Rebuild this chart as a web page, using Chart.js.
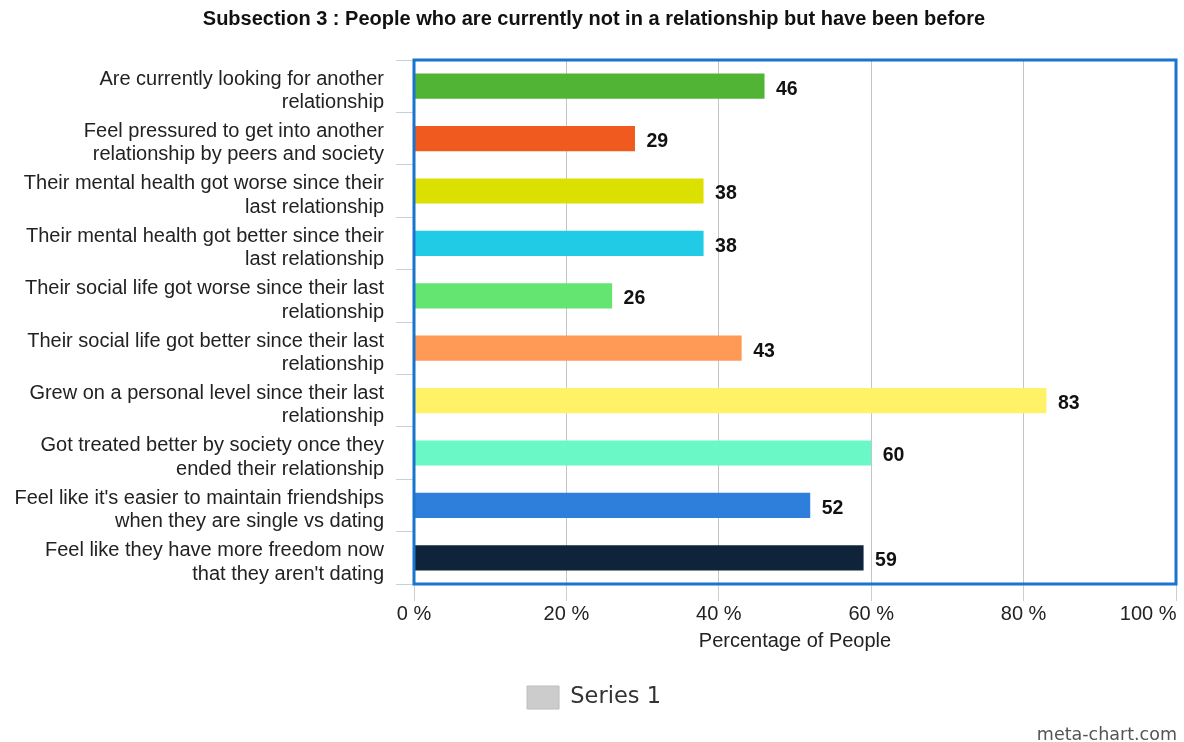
<!DOCTYPE html>
<html>
<head>
<meta charset="utf-8">
<title>Subsection 3</title>
<script src="https://cdn.jsdelivr.net/npm/chart.js@4/dist/chart.umd.min.js"></script>
<style>
  html, body { margin: 0; padding: 0; background: #fff; }
  #wrap { position: relative; width: 1184px; height: 742px; }
  #credit {
    position: absolute; right: 7px; bottom: -2px;
    font-family: 'DejaVu Sans', sans-serif; font-size: 17.5px; color: #555;
  }
</style>
</head>
<body>
<div id="wrap">
  <canvas id="chart" width="1184" height="742"></canvas>
  <div id="credit">meta-chart.com</div>
</div>
<script>
// chart data
const categories = [
  ['Are currently looking for another', 'relationship'],
  ['Feel pressured to get into another', 'relationship by peers and society'],
  ['Their mental health got worse since their', 'last relationship'],
  ['Their mental health got better since their', 'last relationship'],
  ['Their social life got worse since their last', 'relationship'],
  ['Their social life got better since their last', 'relationship'],
  ['Grew on a personal level since their last', 'relationship'],
  ['Got treated better by society once they', 'ended their relationship'],
  ["Feel like it's easier to maintain friendships", 'when they are single vs dating'],
  ['Feel like they have more freedom now', "that they aren't dating"]
];
const values = [46, 29, 38, 38, 26, 43, 83, 60, 52, 59];
const barColors = [
  '#52b435', '#f05a1e', '#dce000', '#22cbe5', '#64e470',
  '#ff9a56', '#fff266', '#6af8c6', '#2e7fdb', '#0f233a'
];
const xTicks = [0, 20, 40, 60, 80, 100];

const FONT = "'Liberation Sans', Arial, sans-serif";

// blue frame around the plot area
const framePlugin = {
  id: 'frame',
  afterDatasetsDraw(chart) {
    const { ctx, chartArea: a } = chart;
    ctx.save();
    ctx.strokeStyle = '#1874cd';
    ctx.lineWidth = 3;
    ctx.strokeRect(a.left, a.top, a.right - a.left, a.bottom - a.top);
    ctx.restore();
  }
};

// value labels next to bars
const valueLabels = {
  id: 'valueLabels',
  afterDraw(chart) {
    const { ctx } = chart;
    const meta = chart.getDatasetMeta(0);
    ctx.save();
    ctx.font = 'bold 19.5px ' + FONT;
    ctx.fillStyle = '#111';
    ctx.textAlign = 'left';
    ctx.textBaseline = 'middle';
    meta.data.forEach((bar, i) => {
      ctx.fillText(values[i], bar.x + 11.5, bar.y + 3);
    });
    ctx.restore();
  }
};

new Chart(document.getElementById('chart'), {
  type: 'bar',
  data: {
    labels: categories,
    datasets: [{
      label: 'Series 1',
      data: values,
      backgroundColor: barColors,
      borderWidth: 0,
      categoryPercentage: 1,
      barPercentage: 0.48
    }]
  },
  options: {
    indexAxis: 'y',
    responsive: false,
    animation: false,
    layout: { padding: { left: 12, right: 8, top: 0, bottom: 23 } },
    plugins: {
      title: {
        display: true,
        text: 'Subsection 3 : People who are currently not in a relationship but have been before',
        color: '#111',
        font: { family: FONT, size: 20, weight: 'bold', lineHeight: 1.2 },
        padding: { top: 7, bottom: 29 }
      },
      legend: {
        position: 'bottom',
        onClick: null,
        labels: {
          boxWidth: 32,
          boxHeight: 23,
          color: '#333',
          font: { family: "'DejaVu Sans', sans-serif", size: 22.5 },
          generateLabels: () => [{
            text: 'Series 1',
            fillStyle: '#cccccc',
            strokeStyle: '#bdbdbd',
            lineWidth: 1,
            fontColor: '#333',
            datasetIndex: 0
          }]
        }
      },
      tooltip: { enabled: false }
    },
    scales: {
      x: {
        min: 0,
        max: 100,
        afterBuildTicks: (scale) => { scale.ticks = xTicks.map(v => ({ value: v })); },
        afterFit: (scale) => {
          scale.height = 92;
          scale.paddingRight = 0;
        },
        ticks: {
          color: '#222',
          padding: 1,
          maxRotation: 0,
          font: { family: FONT, size: 20 },
          // last label is pulled inside the canvas, like the original
          callback: (v) => v === 100 ? v + ' %' + '\u00a0'.repeat(10) : v + ' %'
        },
        grid: {
          color: '#c4c4c4',
          tickColor: '#c6d0dc',
          tickLength: 17,
          lineWidth: 1
        },
        border: { color: '#c6ccd6', width: 1 },
        title: {
          display: true,
          text: 'Percentage of People',
          color: '#222',
          font: { family: FONT, size: 20, lineHeight: 1.2 },
          padding: { top: 4, bottom: 22.5 }
        }
      },
      y: {
        afterFit: (scale) => { scale.width = 402; },
        ticks: {
          color: '#222',
          padding: 12,
          labelOffset: 4.5,
          font: { family: FONT, size: 20, lineHeight: 1.17 }
        },
        grid: {
          drawOnChartArea: false,
          drawTicks: true,
          tickLength: 18,
          color: '#c6d0dc'
        },
        border: { color: '#c6ccd6', width: 1 }
      }
    }
  },
  plugins: [framePlugin, valueLabels]
});
</script>
</body>
</html>
